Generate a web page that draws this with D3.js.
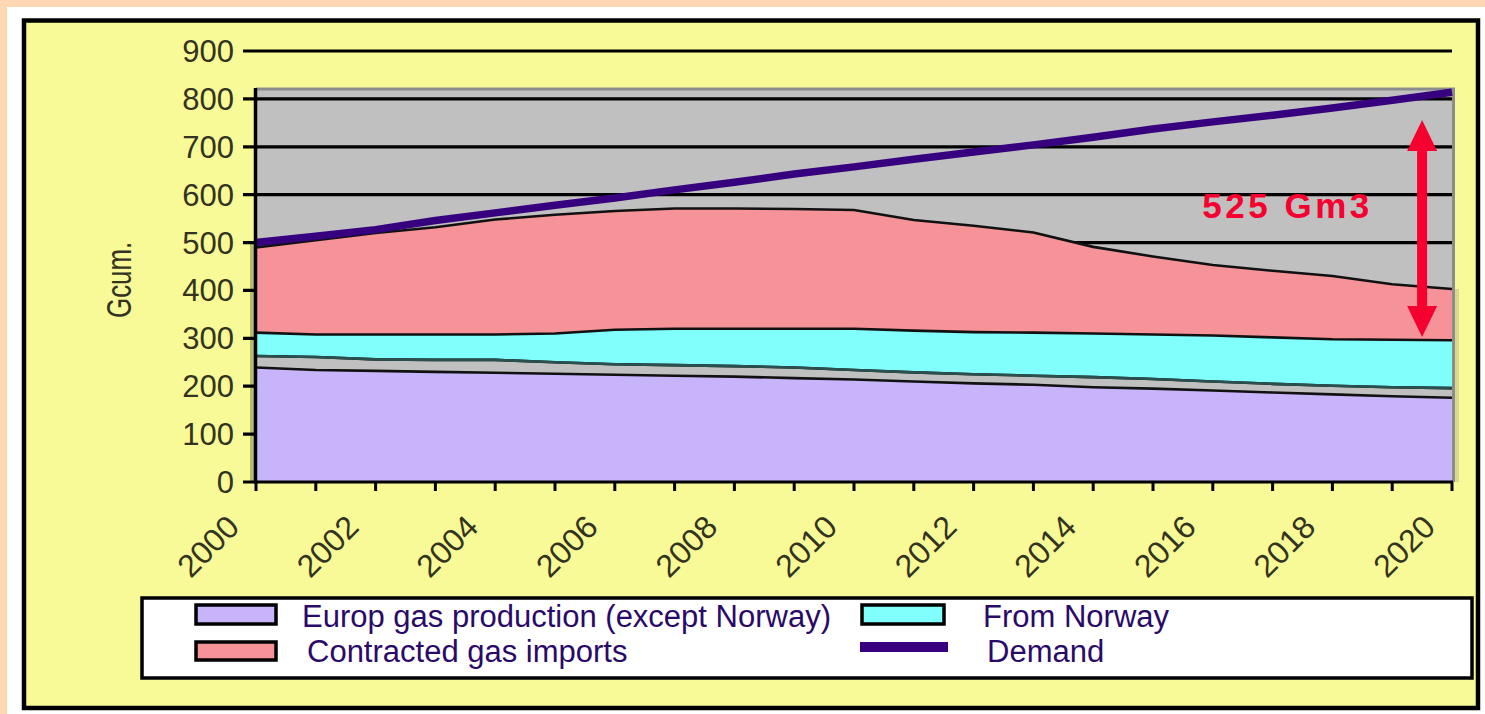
<!DOCTYPE html>
<html>
<head>
<meta charset="utf-8">
<script src="https://cdn.jsdelivr.net/npm/d3@7/dist/d3.min.js"></script>
<style>
  html, body { margin: 0; padding: 0; background: #FFD7B3; }
  svg { display: block; }
  text { font-family: Arial, "Liberation Sans", sans-serif; }
</style>
</head>
<body>
<svg id="chart" width="1485" height="714"></svg>
<script>
// ---- data ----
const years = [2000, 2001, 2002, 2003, 2004, 2005, 2006, 2007, 2008, 2009, 2010,
               2011, 2012, 2013, 2014, 2015, 2016, 2017, 2018, 2019, 2020];
const europProduction = [239, 234, 232, 230, 228, 226, 224, 222, 220, 217, 214,
                         210, 206, 203, 198, 195, 191, 187, 183, 179, 176];
const otherSupply = [24, 27, 24, 25, 27, 24, 22, 22, 22, 22, 20,
                     19, 19, 19, 21, 20, 19, 18, 18, 19, 20];
const fromNorway = [49, 47, 52, 53, 53, 60, 72, 76, 78, 81, 86,
                    87, 88, 90, 91, 93, 96, 97, 97, 99, 100];
const contractedImports = [178, 197, 212, 224, 240, 248, 248, 251, 251, 250, 248,
                           231, 222, 209, 181, 163, 147, 139, 132, 116, 107];
const demand = [500, 513, 527, 546, 562, 578, 593, 610, 626, 643, 658,
                674, 689, 704, 720, 737, 752, 766, 781, 797, 814];
const yTickValues = [0, 100, 200, 300, 400, 500, 600, 700, 800, 900];
const xTickLabels = ["2000", "2002", "2004", "2006", "2008", "2010",
                     "2012", "2014", "2016", "2018", "2020"];
const yAxisTitle = "Gcum.";
const gapLabel = "525 Gm3";
const gapArrowYear = [2019.5];
const gapArrowRange = [303, 756];
const gapLabelPos = [2017.25, 578];
const legendItems = ["Europ gas production (except Norway)", "Contracted gas imports", "From Norway", "Demand"];

// ---- setup ----
const svg = d3.select("#chart");
const W = 1485, H = 714;
const colProd = "#C8B4FB", colNor = "#80FFFD", colCon = "#F69399", colGap = "#C0C0C0",
      colDem = "#36007F", colPlot = "#C0C0C0", colYellow = "#F7FA97";

const x = d3.scaleLinear().domain([2000, 2020]).range([256, 1452]);
const y = d3.scaleLinear().domain([0, 900]).range([482, 51]);

// frame
svg.append("rect").attr("x", 7).attr("y", 7).attr("width", W - 7).attr("height", H - 7).attr("fill", "#FFFFFF");
svg.append("rect").attr("x", 24).attr("y", 20.5).attr("width", 1454).attr("height", 687.5)
  .attr("fill", colYellow).attr("stroke", "#000").attr("stroke-width", 4.5);

// plot area background
const plotTop = 89;
svg.append("rect").attr("x", x(2000)).attr("y", plotTop).attr("width", x(2020) - x(2000))
  .attr("height", y(0) - plotTop).attr("fill", colPlot);
svg.append("line").attr("x1", x(2000)).attr("x2", x(2020) + 3).attr("y1", plotTop).attr("y2", plotTop)
  .attr("stroke", "#8C8C8C").attr("stroke-width", 3);
svg.append("line").attr("x1", x(2020) + 1.5).attr("x2", x(2020) + 1.5).attr("y1", plotTop).attr("y2", y(0))
  .attr("stroke", "#8C8C8C").attr("stroke-width", 3);

// faint side shading of the area block
svg.append("rect").attr("x", x(2000) - 6).attr("y", y(demand[0])).attr("width", 4)
  .attr("height", y(0) - y(demand[0])).attr("fill", "#B9BA72");
svg.append("rect").attr("x", x(2020) + 3).attr("y", y(403)).attr("width", 4)
  .attr("height", y(0) - y(403)).attr("fill", "#D9DB8C");

// gridlines (also acting as y ticks)
svg.append("g").selectAll("line").data(yTickValues.filter(d => d > 0)).join("line")
  .attr("x1", 243).attr("x2", x(2020)).attr("y1", d => y(d)).attr("y2", d => y(d))
  .attr("stroke", "#000").attr("stroke-width", 3.2);

// stacked areas
const table = years.map((yr, i) => ({
  year: yr,
  prod: europProduction[i],
  other: otherSupply[i],
  norway: fromNorway[i],
  contracted: contractedImports[i]
}));
const keys = ["prod", "other", "norway", "contracted"];
const colors = { prod: colProd, other: colGap, norway: colNor, contracted: colCon };
const stack = d3.stack().keys(keys)(table);
const area = d3.area().x(d => x(d.data.year)).y0(d => y(d[0])).y1(d => y(d[1]));
const topLine = d3.line().x(d => x(d.data.year)).y(d => y(d[1]));
const botLine = d3.line().x(d => x(d.data.year)).y(d => y(d[0]));

svg.append("g").selectAll("path").data(stack).join("path")
  .attr("d", area).attr("fill", d => colors[d.key]);
// black outlines of the areas
svg.append("g").selectAll("path").data(stack).join("path")
  .attr("d", topLine).attr("fill", "none").attr("stroke", "#111").attr("stroke-width", 2.6);
svg.append("path").datum(stack[2]).attr("d", botLine).attr("fill", "none")
  .attr("stroke", "#2a4f4f").attr("stroke-width", 2.6);

// demand line
const demLine = d3.line().x((d, i) => x(years[i])).y(d => y(d));
svg.append("path").datum(demand).attr("d", demLine).attr("fill", "none")
  .attr("stroke", colDem).attr("stroke-width", 7.5).attr("stroke-linecap", "butt");

// axes lines
svg.append("line").attr("x1", x(2000) - 0.5).attr("x2", x(2000) - 0.5).attr("y1", plotTop - 1).attr("y2", y(0) + 1.5)
  .attr("stroke", "#000").attr("stroke-width", 3.5);
svg.append("line").attr("x1", 243).attr("x2", x(2020) + 1).attr("y1", y(0)).attr("y2", y(0))
  .attr("stroke", "#000").attr("stroke-width", 3.2);

// x ticks
svg.append("g").selectAll("line").data(years).join("line")
  .attr("x1", d => x(d)).attr("x2", d => x(d)).attr("y1", y(0)).attr("y2", y(0) + 9)
  .attr("stroke", "#000").attr("stroke-width", 3);

// y tick labels
svg.append("g").selectAll("text").data(yTickValues).join("text")
  .attr("x", 234).attr("y", d => y(d) + 11)
  .attr("text-anchor", "end").attr("font-size", 31).attr("fill", "#33331f")
  .text(d => d);

// x tick labels
svg.append("g").selectAll("text").data(xTickLabels).join("text")
  .attr("text-anchor", "end").attr("font-size", 32).attr("fill", "#33331f")
  .attr("transform", d => `translate(${x(+d) - 15},529) rotate(-45)`)
  .text(d => d);

// y axis title
svg.append("text").attr("text-anchor", "start").attr("font-size", 36).attr("fill", "#33331f")
  .attr("transform", "translate(131,318) rotate(-90) scale(0.72,1)").text(yAxisTitle);

// gap arrow annotation
const ax = x(gapArrowYear[0]);
const yTop = y(gapArrowRange[1]), yBot = y(gapArrowRange[0]);
const headH = 31, headW = 15, shaft = 5;
const arrowPath = d3.path();
arrowPath.moveTo(ax, yTop);
arrowPath.lineTo(ax + headW, yTop + headH);
arrowPath.lineTo(ax + shaft, yTop + headH);
arrowPath.lineTo(ax + shaft, yBot - headH);
arrowPath.lineTo(ax + headW, yBot - headH);
arrowPath.lineTo(ax, yBot);
arrowPath.lineTo(ax - headW, yBot - headH);
arrowPath.lineTo(ax - shaft, yBot - headH);
arrowPath.lineTo(ax - shaft, yTop + headH);
arrowPath.lineTo(ax - headW, yTop + headH);
arrowPath.closePath();
svg.append("path").attr("d", arrowPath.toString()).attr("fill", "#F5002F");

svg.append("text").attr("x", x(gapLabelPos[0])).attr("y", y(gapLabelPos[1]) + 13)
  .attr("text-anchor", "middle").attr("font-size", 35).attr("font-weight", "bold")
  .attr("letter-spacing", 3.5).attr("fill", "#F5002F").text(gapLabel);

// legend
const lg = svg.append("g");
lg.append("rect").attr("x", 142).attr("y", 598).attr("width", 1330).attr("height", 80)
  .attr("fill", "#fff").attr("stroke", "#000").attr("stroke-width", 3.5);
lg.append("rect").attr("x", 196).attr("y", 605).attr("width", 80).attr("height", 19)
  .attr("fill", colProd).attr("stroke", "#000").attr("stroke-width", 3.5);
lg.append("rect").attr("x", 196).attr("y", 642).attr("width", 80).attr("height", 18)
  .attr("fill", colCon).attr("stroke", "#000").attr("stroke-width", 3.5);
lg.append("rect").attr("x", 862).attr("y", 605).attr("width", 82).attr("height", 19)
  .attr("fill", colNor).attr("stroke", "#000").attr("stroke-width", 3.5);
lg.append("rect").attr("x", 860).attr("y", 642).attr("width", 88).attr("height", 10)
  .attr("fill", colDem);
const legPos = [[302, 627], [307, 662], [983, 627], [987, 662]];
lg.selectAll("text.l").data(legendItems).join("text").attr("class", "l")
  .attr("x", (d, i) => legPos[i][0]).attr("y", (d, i) => legPos[i][1])
  .attr("font-size", 31).attr("fill", "#2a0a68").text(d => d);
</script>
</body>
</html>
